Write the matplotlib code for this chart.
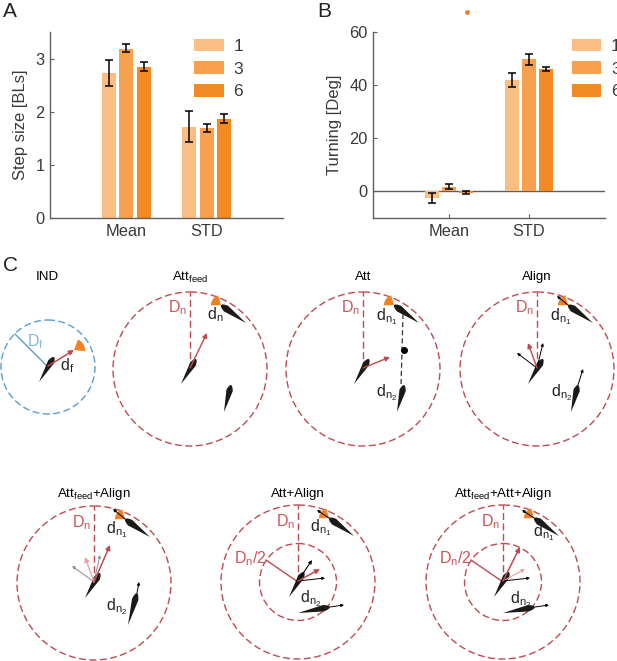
import numpy as np
import matplotlib.pyplot as plt
from matplotlib.patches import Circle, Polygon

plt.rcParams['font.family'] = ['Liberation Sans', 'DejaVu Sans']
plt.rcParams['mathtext.fontset'] = 'custom'
plt.rcParams['mathtext.rm'] = 'Liberation Sans'
plt.rcParams['mathtext.it'] = 'Liberation Sans:italic'

# ---- data for panels A and B ----
categories = ['Mean', 'STD']
group_sizes = ['1', '3', '6']
bar_colors = ['#FBBE82', '#F7A04E', '#F28A23']

step_size = [[2.73, 1.72], [3.18, 1.70], [2.85, 1.87]]
step_lo = [[2.48, 1.43], [3.12, 1.62], [2.77, 1.78]]
step_hi = [[2.97, 2.01], [3.27, 1.77], [2.94, 1.95]]

turning = [[-2.5, 42.0], [1.8, 49.7], [-0.5, 46.2]]
turn_lo = [[-4.2, 39.4], [0.9, 47.5], [-0.9, 45.4]]
turn_hi = [[-0.6, 44.5], [2.8, 51.8], [0.1, 46.9]]

step_ticks = [0, 1, 2, 3]
turn_ticks = [0, 20, 40, 60]

AX_COL = '#5f5f5f'
TXT_COL = '#3a3a3a'
RED = '#C04A50'
RED_TXT = '#C9565E'
PINK = '#E9A3A8'
BLUE = '#5B9BD5'
ORANGE = '#F08224'

W, H = 617, 661
fig = plt.figure(figsize=(W / 100, H / 100), dpi=100)


def bar_panel(rect, vals, lo, hi, ylim, yticks, ylabel, leg_xy, zero_line=False):
    ax = fig.add_axes(rect)
    x = np.arange(len(categories)) + 1
    offsets = [-0.217, 0, 0.217]
    for i, lab in enumerate(group_sizes):
        v = np.array(vals[i])
        err = [v - np.array(lo[i]), np.array(hi[i]) - v]
        ax.bar(x + offsets[i], v, width=0.175, color=bar_colors[i], label=lab, zorder=2)
        ax.errorbar(x + offsets[i], v, yerr=err, fmt='none', ecolor='black',
                    elinewidth=1.1, capsize=3, capthick=1.1, zorder=3)
    if zero_line:
        ax.axhline(0, color=AX_COL, lw=1.0, zorder=1)
    ax.set_xlim(0.05, 2.95)
    ax.set_ylim(*ylim)
    ax.set_xticks(x)
    ax.set_xticklabels(categories)
    ax.set_yticks(yticks)
    for s in ['top', 'right']:
        ax.spines[s].set_visible(False)
    for s in ['left', 'bottom']:
        ax.spines[s].set_color(AX_COL)
        ax.spines[s].set_linewidth(1.0)
    ax.tick_params(direction='in', length=3, color=AX_COL, labelcolor=TXT_COL,
                   labelsize=11.8, pad=4)
    ax.set_ylabel(ylabel, fontsize=12, color=TXT_COL, labelpad=5)
    ax.legend(loc='upper left', bbox_to_anchor=leg_xy, frameon=False,
              handlelength=1.7, handleheight=0.75, labelspacing=0.42,
              handletextpad=0.55, borderpad=0, borderaxespad=0, fontsize=12.5,
              labelcolor=TXT_COL)
    return ax


ax_a = bar_panel([50 / W, 1 - 218 / H, 233 / W, 186 / H], step_size, step_lo, step_hi,
                 (0, 3.5), step_ticks, 'Step size [BLs]', (0.62, 0.965))
ax_b = bar_panel([373 / W, 1 - 218 / H, 232 / W, 186 / H], turning, turn_lo, turn_hi,
                 (-10, 60), turn_ticks, 'Turning [Deg]', (0.857, 0.965), zero_line=True)

# ---- panel C: schematic drawn in pixel coordinates ----
axc = fig.add_axes([0, 0, 1, 1], zorder=-1)
axc.set_xlim(0, W)
axc.set_ylim(H, 0)
axc.axis('off')

for txt, (px, py) in zip(['A', 'B', 'C'], [(3, 2), (317, 2), (3, 256)]):
    fig.text(px / W, 1 - py / H, txt, fontsize=15, color='#222222', va='top', ha='left')

R_OUT = 77
TITLE_FS = 9.6


def circle(cx, cy, r, color):
    axc.add_patch(Circle((cx, cy), r, fill=False, ec=color, lw=1.0,
                         ls=(0, (5, 2.5))))


def radius(cx, cy, end, color):
    axc.plot([cx, cx + end[0]], [cy, cy + end[1]], color=color, lw=1.0,
             ls=(0, (5, 2.5)))


def fish(cx, cy, head, tail, w=6.5):
    h = np.array([cx + head[0], cy + head[1]], float)
    t = np.array([cx + tail[0], cy + tail[1]], float)
    d = t - h
    n = np.array([-d[1], d[0]]) / np.hypot(*d)
    s = np.linspace(0, 1, 40)
    prof = np.where(s < 0.2, np.sqrt(s / 0.2), 1 - (s - 0.2) / 0.8) * w / 2
    left = h + np.outer(s, d) + np.outer(prof, n)
    right = h + np.outer(s, d) - np.outer(prof, n)
    axc.add_patch(Polygon(np.vstack([left, right[::-1]]), closed=True,
                          fc='#1c1a17', ec='none', zorder=4))


def food(cx, cy, apex, direction, r=10, half=38):
    p = np.array([cx + apex[0], cy + apex[1]], float)
    ang = np.degrees(np.arctan2(direction[1], direction[0]))
    th = np.radians(np.linspace(ang - half, ang + half, 12))
    pts = np.vstack([p, p + r * np.column_stack([np.cos(th), np.sin(th)])])
    axc.add_patch(Polygon(pts, closed=True, fc=ORANGE, ec='none', zorder=3))


def arrow(cx, cy, start, tip, color, lw=1.0, ms=7, z=5):
    axc.annotate('', xy=(cx + tip[0], cy + tip[1]),
                 xytext=(cx + start[0], cy + start[1]),
                 arrowprops=dict(arrowstyle='-|>', color=color, lw=lw,
                                 mutation_scale=ms, shrinkA=0, shrinkB=0),
                 zorder=z)


def label(cx, cy, pos, s, color='#222222', size=11.5):
    axc.text(cx + pos[0], cy + pos[1], s, color=color, fontsize=size,
             ha='center', va='center', zorder=6)


CF_HEAD, CF_TAIL = (6, -10), (-9, 15)
N1_HEAD, N1_TAIL = (31, -64), (56, -46)
N1_DIR = (N1_HEAD[0] - N1_TAIL[0], N1_HEAD[1] - N1_TAIL[1])
N2_HEAD, N2_TAIL = (41, 16), (34, 43)
N2B_HEAD, N2B_TAIL = (32, 25), (0, 31)
DN = r'D$_\mathrm{n}$'
DN1 = r'd$_{\mathrm{n}_1}$'
DN2 = r'd$_{\mathrm{n}_2}$'
FEED = r'Att$_\mathrm{feed}$'

# IND
cx, cy = 48, 367
axc.text(47, 277, 'IND', fontsize=TITLE_FS, ha='center', va='center')
circle(cx, cy, 47, BLUE)
axc.plot([cx, cx - 33], [cy, cy - 33], color=BLUE, lw=1.0)
label(cx, cy, (-13, -25), r'D$_\mathrm{f}$', color='#86B6E0')
fish(cx, cy, CF_HEAD, CF_TAIL)
food(cx, cy, (26, -17), (26, -16), r=11)
arrow(cx, cy, (0, -1), (26, -17), RED, lw=1.1)
label(cx, cy, (19, -1), r'd$_\mathrm{f}$')

# Att_feed
cx, cy = 190, 369
axc.text(cx, 277, FEED, fontsize=TITLE_FS, ha='center', va='center')
circle(cx, cy, R_OUT, RED)
radius(cx, cy, (0, -R_OUT), RED)
label(cx, cy, (-12, -61), DN, color=RED_TXT)
fish(cx, cy, CF_HEAD, CF_TAIL)
arrow(cx, cy, (0, -1), (17, -36), RED)
food(cx, cy, N1_HEAD, N1_DIR)
fish(cx, cy, N1_HEAD, N1_TAIL, 7)
label(cx, cy, (25, -54), r'd$_\mathrm{n}$')
fish(cx, cy, N2_HEAD, N2_TAIL)

# Att
cx, cy = 363, 369
axc.text(cx, 277, 'Att', fontsize=TITLE_FS, ha='center', va='center')
circle(cx, cy, R_OUT, RED)
radius(cx, cy, (0, -R_OUT), RED)
label(cx, cy, (-12, -61), DN, color=RED_TXT)
fish(cx, cy, CF_HEAD, CF_TAIL)
arrow(cx, cy, (0, -1), (27, -12), RED)
food(cx, cy, N1_HEAD, N1_DIR)
fish(cx, cy, N1_HEAD, N1_TAIL, 7)
fish(cx, cy, N2_HEAD, N2_TAIL)
axc.plot([cx + 40, cx + 38], [cy - 55, cy + 17], color='#333333', lw=0.9,
         ls=(0, (4, 2.5)))
axc.plot([cx + 40.5], [cy - 19], 'o', color='black', ms=4)
label(cx, cy, (24, -52), DN1)
label(cx, cy, (24, 24), DN2)

# Align
cx, cy = 537, 369
axc.text(cx, 277, 'Align', fontsize=TITLE_FS, ha='center', va='center')
circle(cx, cy, R_OUT, RED)
radius(cx, cy, (0, -R_OUT), RED)
label(cx, cy, (-12, -61), DN, color=RED_TXT)
fish(cx, cy, CF_HEAD, CF_TAIL)
arrow(cx, cy, (0, -1), (-20, -16), 'black', lw=0.7, ms=4)
arrow(cx, cy, (0, -1), (6, -26), 'black', lw=0.7, ms=4)
arrow(cx, cy, (0, -1), (-9, -26), RED, lw=1.0)
food(cx, cy, N1_HEAD, N1_DIR)
fish(cx, cy, N1_HEAD, N1_TAIL, 7)
arrow(cx, cy, N1_HEAD, (20, -73), 'black', lw=0.7, ms=4)
fish(cx, cy, N2_HEAD, N2_TAIL)
arrow(cx, cy, N2_HEAD, (46, 0), 'black', lw=0.7, ms=4)
label(cx, cy, (24, -52), DN1)
label(cx, cy, (25, 24), DN2)

# Att_feed + Align
cx, cy = 94, 583
axc.text(cx, 494, FEED + '+Align', fontsize=TITLE_FS, ha='center', va='center')
circle(cx, cy, R_OUT, RED)
radius(cx, cy, (0, -R_OUT), RED)
label(cx, cy, (-12, -60), DN, color=RED_TXT)
fish(cx, cy, CF_HEAD, CF_TAIL)
arrow(cx, cy, (0, -1), (-22, -17), '#8a8a8a', lw=0.7, ms=4)
arrow(cx, cy, (0, -1), (6, -28), '#8a8a8a', lw=0.7, ms=4)
arrow(cx, cy, (0, -1), (-9, -26), PINK, lw=1.0)
arrow(cx, cy, (0, -1), (16, -38), RED, lw=1.1)
food(cx, cy, N1_HEAD, N1_DIR)
fish(cx, cy, N1_HEAD, N1_TAIL, 7)
arrow(cx, cy, N1_HEAD, (19, -74), 'black', lw=0.7, ms=4)
fish(cx, cy, (43, 10), (34, 42))
arrow(cx, cy, (43, 10), (45, -1), 'black', lw=0.7, ms=4)
label(cx, cy, (23, -53), DN1)
label(cx, cy, (23, 24), DN2)

# Att + Align and Att_feed + Att + Align
for cx, title, red_tip, mid_arrow, mid_col, n1_lab, n2_lab in [
        (298, 'Att+Align', (22, -13), (14, -22), 'black', (23, -54), (13, 17)),
        (503, FEED + '+Att+Align', (17, -35), (22, -13), PINK, (41, -49), (18, 18))]:
    cy = 582
    axc.text(cx, 494, title, fontsize=TITLE_FS, ha='center', va='center')
    circle(cx, cy, R_OUT, RED)
    circle(cx, cy, R_OUT / 2, RED)
    radius(cx, cy, (0, -R_OUT), RED)
    axc.plot([cx, cx - 32], [cy, cy - 22], color=RED, lw=1.0)
    label(cx, cy, (-12, -60), DN, color=RED_TXT)
    label(cx, cy, (-48, -23), r'D$_\mathrm{n}$/2', color=RED_TXT)
    fish(cx, cy, CF_HEAD, CF_TAIL)
    arrow(cx, cy, (0, -1), mid_arrow, mid_col, lw=0.8, ms=5)
    arrow(cx, cy, (0, -1), (27, -4), 'black', lw=0.7, ms=4)
    arrow(cx, cy, (0, -1), red_tip, RED, lw=1.1)
    food(cx, cy, N1_HEAD, N1_DIR)
    fish(cx, cy, N1_HEAD, N1_TAIL, 7)
    arrow(cx, cy, N1_HEAD, (19, -72), 'black', lw=0.7, ms=4)
    fish(cx, cy, N2B_HEAD, N2B_TAIL)
    arrow(cx, cy, N2B_HEAD, (46, 23), 'black', lw=0.7, ms=4)
    label(cx, cy, n1_lab, DN1)
    label(cx, cy, n2_lab, DN2)

# stray orange dot above panel B
axc.plot([467], [12], 'o', color=ORANGE, ms=2.5)

fig.savefig('out.png', dpi=100)
